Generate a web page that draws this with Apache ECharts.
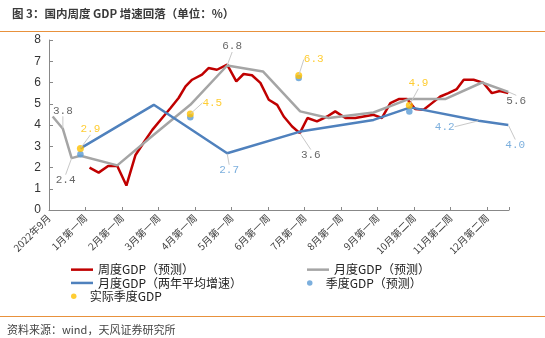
<!DOCTYPE html>
<html>
<head>
<meta charset="utf-8">
<script src="https://cdn.jsdelivr.net/npm/echarts@6/dist/echarts.min.js"></script>
<style>
html,body{margin:0;padding:0;background:#fff;}
#c{width:545px;height:338px;}
</style>
</head>
<body>
<div id="c"></div>
<script>
// ---- data (x in "label units": 0 = 2022年9月, 1 = 1月第一周, ...) ----
const xTickLabels = ['2022年9月','1月第一周','2月第一周','3月第一周','4月第一周','5月第一周','6月第一周','7月第一周','8月第一周','9月第一周','10月第二周','11月第二周','12月第二周'];

const weeklyX = [1.11,1.36,1.62,1.87,2.12,2.37,2.6,2.83,3.1,3.33,3.55,3.74,3.92,4.19,4.37,4.6,4.88,5.13,5.33,5.56,5.79,6.02,6.25,6.43,6.66,6.87,7.08,7.34,7.62,7.84,8.12,8.39,8.62,8.89,9.12,9.35,9.58,9.81,10.03,10.26,10.49,10.72,10.94,11.17,11.36,11.63,11.9,12.13,12.35,12.58];
const weeklyY = [1.99,1.76,2.07,2.07,1.15,2.59,3.19,3.77,4.33,4.8,5.27,5.82,6.13,6.37,6.68,6.6,6.84,6.05,6.4,6.34,5.98,5.19,4.95,4.4,3.93,3.62,4.33,4.17,4.4,4.64,4.33,4.33,4.4,4.48,4.33,5.03,5.22,5.22,4.75,4.72,5.03,5.34,5.5,5.69,6.13,6.13,5.98,5.5,5.6,5.5];

const monthlyX = [0.1,0.38,0.62,0.86,1.87,2.87,3.87,4.88,5.86,6.88,7.66,8.89,9.85,10.85,11.86,12.58];
const monthlyY = [4.4,3.82,2.44,2.55,2.1,3.54,4.95,6.8,6.52,4.64,4.33,4.59,5.22,5.22,6.0,5.56];

const twoYearX = [0.86,2.87,4.88,6.88,8.89,9.9,11.77,12.58];
const twoYearY = [2.9,4.95,2.67,3.69,4.24,4.83,4.2,4.0];

const quarterX = [0.86,3.87,6.84,9.87];
const quarterForecast = [2.62,4.37,6.21,4.64];
const quarterActual = [2.9,4.52,6.33,4.93];

const seriesNames = ['周度GDP（预测）','月度GDP（预测）','月度GDP（两年平均增速）','季度GDP（预测）','实际季度GDP'];

// which points carry a value label: [source, index]
const labelRefs = [
  ['monthly',1],['monthly',2],['actual',0],['monthly',7],['actual',1],['actual',2],
  ['twoYear',2],['weekly',25],['actual',3],['twoYear',6],['twoYear',7],['monthly',15]
];
// label offsets (style only), pixels
const labelOffsets = [[0,-18],[-6,22],[10,-19],[5,-19],[22,-11],[15,-16],[2,17],[11,22],[9,-22],[-34,6],[7,20],[8,9]];

const colors = {weekly:'#C00000', monthly:'#A5A5A5', twoYear:'#4F81BD', forecast:'#5B9BD5', actual:'#FFC000'};
const labelColors = {weekly:'#404040', monthly:'#404040', twoYear:'#5B9BD5', actual:'#FFC000'};

function pairs(xs, ys){ return xs.map((x,i)=>[x, ys[i]]); }
const src = {
  weekly: pairs(weeklyX, weeklyY),
  monthly: pairs(monthlyX, monthlyY),
  twoYear: pairs(twoYearX, twoYearY),
  actual: pairs(quarterX, quarterActual)
};
const annData = labelRefs.map((r) => {
  const p = src[r[0]][r[1]];
  return { value: [p[0], p[1]], label: {color: labelColors[r[0]]} };
});

const chart = echarts.init(document.getElementById('c'), null, {renderer:'canvas'});
const legendText = {fontFamily:'"Noto Sans CJK SC", sans-serif', fontSize:12, color:'#222'};
function lineLegend(names, left, top){
  return {data:names.map(n=>({name:n, icon:'rect'})), orient:'vertical', left:left, top:top,
          itemWidth:22, itemHeight:2.5, itemGap:0, selectedMode:false, textStyle:Object.assign({lineHeight:13.3}, legendText)};
}
function dotLegend(names, left, top){
  return {data:names.map(n=>({name:n, icon:'circle'})), orient:'vertical', left:left, top:top,
          itemWidth:22, itemHeight:5.5, itemGap:0, selectedMode:false, textStyle:Object.assign({lineHeight:13.3}, legendText)};
}

chart.setOption({
  animation:false,
  backgroundColor:'#fff',
  title:{
    text:'图 3：国内周度 GDP 增速回落（单位：%）',
    left:7, top:3,
    textStyle:{fontFamily:'"Noto Sans CJK SC", sans-serif', fontSize:11.5, fontWeight:'bold', color:'#3a3a3a'}
  },
  graphic:[
    {type:'line', shape:{x1:0,y1:31.5,x2:545,y2:31.5}, style:{stroke:'#E8913C', lineWidth:1.2}, silent:true},
    {type:'line', shape:{x1:0,y1:316.5,x2:545,y2:316.5}, style:{stroke:'#E8913C', lineWidth:1.2}, silent:true},
    {type:'text', left:7, top:324, style:{text:'资料来源：wind，天风证券研究所', fontFamily:'"Noto Sans CJK SC", sans-serif', fontSize:11, fill:'#444'}}
  ],
  legend:[
    lineLegend([seriesNames[0], seriesNames[2]], 66, 258),
    dotLegend([seriesNames[4]], 66, 284.6),
    lineLegend([seriesNames[1]], 302, 258),
    dotLegend([seriesNames[3]], 302, 271.3)
  ],
  grid:{left:49, right:36, top:40, bottom:128, containLabel:false},
  xAxis:{
    type:'value', min:0, max:12.6, interval:1,
    axisLine:{show:true, lineStyle:{color:'#888', width:1}},
    axisTick:{show:true, inside:true, length:3, lineStyle:{color:'#888'}},
    splitLine:{show:false},
    axisLabel:{
      rotate:45, margin:6, fontSize:10, color:'#404040',
      fontFamily:'"Noto Sans CJK SC", sans-serif',
      formatter:(v)=> (Number.isInteger(v) && xTickLabels[v]) ? xTickLabels[v] : ''
    }
  },
  yAxis:{
    type:'value', min:0, max:8, interval:1,
    axisLine:{show:true, lineStyle:{color:'#888', width:1}},
    axisTick:{show:true, inside:true, length:4, lineStyle:{color:'#888'}},
    splitLine:{show:false},
    axisLabel:{fontSize:12, color:'#333', margin:8, fontFamily:'"Liberation Sans", Arial, sans-serif'}
  },
  series:[
    {name:seriesNames[0], type:'line', data:src.weekly, symbol:'none', color:colors.weekly,
     lineStyle:{color:colors.weekly, width:2.5}, z:2},
    {name:seriesNames[1], type:'line', data:src.monthly, symbol:'none', color:colors.monthly,
     lineStyle:{color:colors.monthly, width:2.5}, z:3},
    {name:seriesNames[2], type:'line', data:src.twoYear, symbol:'none', color:colors.twoYear,
     lineStyle:{color:colors.twoYear, width:2.5}, z:4},
    {name:seriesNames[3], type:'scatter', data:pairs(quarterX, quarterForecast), symbol:'circle', symbolSize:6.5,
     itemStyle:{color:colors.forecast}, z:5},
    {name:seriesNames[4], type:'scatter', data:src.actual, symbol:'circle', symbolSize:7,
     itemStyle:{color:colors.actual}, z:6},
    {name:'labels', type:'scatter', data:annData, symbol:'circle', symbolSize:1,
     itemStyle:{color:'rgba(0,0,0,0)'}, z:7, silent:true,
     label:{show:true, position:'inside', fontSize:11, fontFamily:'"Liberation Mono", "DejaVu Sans Mono", monospace',
            formatter:(p)=>p.value[1].toFixed(1)},
     labelLine:{show:true, lineStyle:{color:'#c8c8c8', width:1}},
     labelLayout:(params)=>{ const o = labelOffsets[params.dataIndex]; return {dx:o[0], dy:o[1]}; }
    }
  ]
});
</script>
</body>
</html>
